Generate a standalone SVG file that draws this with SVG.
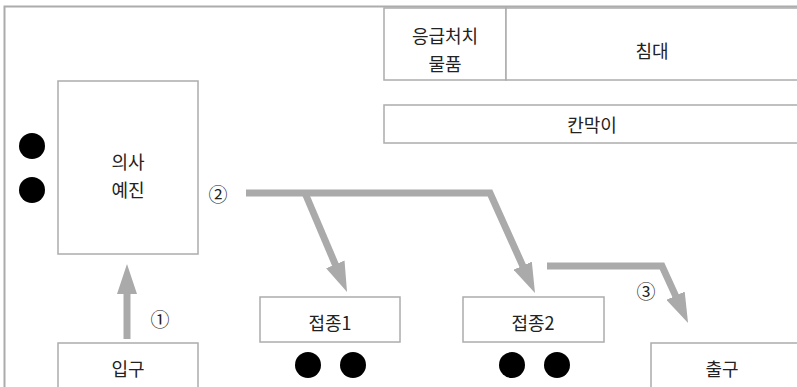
<svg xmlns="http://www.w3.org/2000/svg" width="797" height="387" viewBox="0 0 797 387">
<defs>
<style>
.box{fill:#fff;stroke:#acacac;stroke-width:1.5}
.t{font-family:"Noto Sans CJK KR","Noto Sans",sans-serif;font-size:18px;fill:#222;text-anchor:middle;dominant-baseline:central}
.n{font-family:"Noto Sans CJK KR","DejaVu Sans",sans-serif;font-size:19px;fill:#222;text-anchor:middle;dominant-baseline:central}
.arr{fill:none;stroke:#aaaaaa;stroke-width:7;stroke-linejoin:miter;marker-end:url(#head)}
.dot{fill:#000}
</style>
<marker id="head" markerUnits="userSpaceOnUse" viewBox="0 0 30 20" refX="1" refY="10" markerWidth="30" markerHeight="20" orient="auto">
<path d="M0,0 L30,10 L0,20 z" fill="#aaaaaa"/>
</marker>
</defs>
<rect width="797" height="387" fill="#fff"/>
<path d="M4.5,387 V6.5 H797" fill="none" stroke="#acacac" stroke-width="2"/>

<g id="supplies"><rect class="box" x="384" y="8" width="122" height="72"/><text class="t" x="445" y="35">응급처치</text><text class="t" x="445" y="63">물품</text></g>
<g id="bed"><rect class="box" x="506" y="8" width="295" height="72"/><text class="t" x="652" y="50">침대</text></g>
<g id="partition"><rect class="box" x="384" y="105" width="417" height="38"/><text class="t" x="592" y="124">칸막이</text></g>
<g id="doctor"><rect class="box" x="58" y="81" width="140" height="173"/><text class="t" x="128" y="161">의사</text><text class="t" x="128" y="189">예진</text></g>
<g id="entrance"><rect class="box" x="58" y="343" width="140" height="50"/><text class="t" x="128" y="368">입구</text></g>
<g id="vacc1"><rect class="box" x="260" y="297" width="140" height="45"/><text class="t" x="330" y="322">접종1</text></g>
<g id="vacc2"><rect class="box" x="463" y="297" width="141" height="45"/><text class="t" x="533" y="322">접종2</text></g>
<g id="exit"><rect class="box" x="651" y="343" width="150" height="50"/><text class="t" x="722" y="368">출구</text></g>

<g id="dots">
<circle class="dot" cx="32" cy="146" r="13"/>
<circle class="dot" cx="32" cy="190" r="13"/>
<circle class="dot" cx="308" cy="365" r="13"/>
<circle class="dot" cx="353" cy="365" r="13"/>
<circle class="dot" cx="512" cy="365" r="13"/>
<circle class="dot" cx="557" cy="365" r="13"/>
</g>

<g id="connectors">
<path class="arr" d="M127,339 V293"/>
<path class="arr" d="M305,193 L335.7,265.3"/>
<path class="arr" d="M246,193 H490 L523.1,266.6"/>
<path class="arr" d="M547,266 H662 L676,296.6"/>
<text class="n" x="160" y="318">①</text>
<text class="n" x="218" y="193">②</text>
<text class="n" x="646" y="290">③</text>
</g>
</svg>
